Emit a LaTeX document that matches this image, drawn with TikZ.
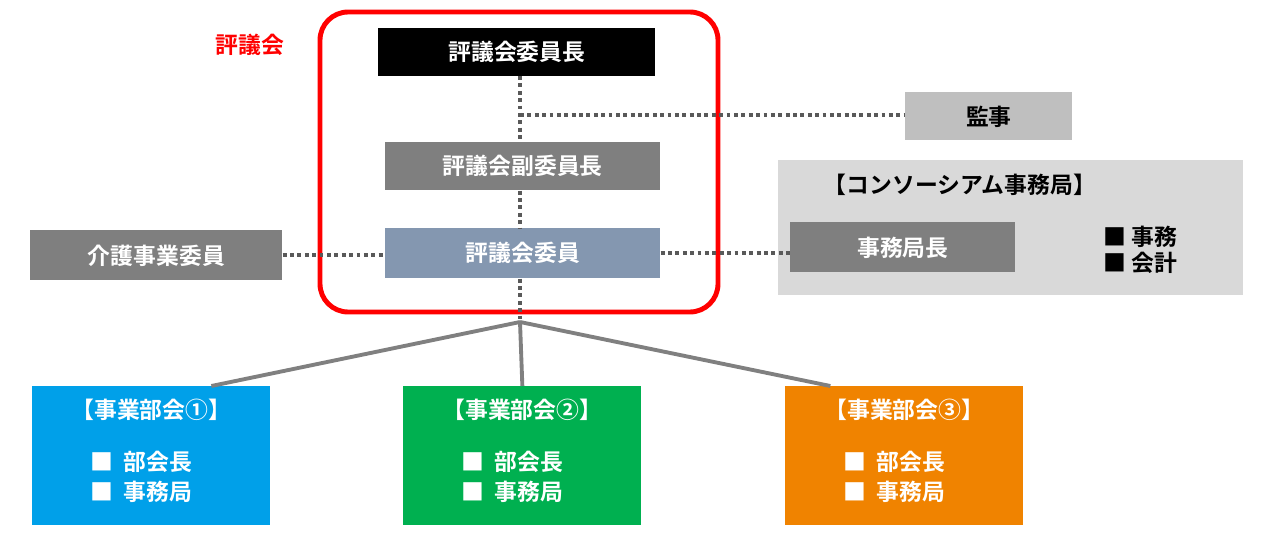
\documentclass[tikz,border=0pt]{standalone}
\usepackage{fontspec}
\setmainfont{Noto Sans CJK JP}[BoldFont={Noto Sans CJK JP Bold}]
\usetikzlibrary{calc}
\definecolor{dgray}{HTML}{7F7F7F}
\definecolor{lgray}{HTML}{BFBFBF}
\definecolor{pgray}{HTML}{D9D9D9}
\definecolor{slate}{HTML}{8497B0}
\definecolor{bukai1}{HTML}{00A0E9}
\definecolor{bukai2}{HTML}{00B050}
\definecolor{bukai3}{HTML}{F08300}
\begin{document}
\begin{tikzpicture}[x=0.02cm,y=-0.02cm,font=\bfseries\fontsize{13}{15}\selectfont,
post/.style ={rectangle, inner sep=0pt, text=white, anchor=north west},
dots/.style ={line width=2.2pt, dotted, draw=black!65},
link/.style ={line width=2.2pt, draw=black!50},
bukai/.style ={rectangle, inner sep=0pt, anchor=north west, minimum width=238*0.02cm, minimum height=139*0.02cm}
]
\useasboundingbox (0,0) rectangle (1280,533);
% council frame
\draw[red, line width=2.8pt, rounded corners=16] (320,12) rectangle (718,312);
\node[red] (Hyogikai) at (250,45) {評議会};
\node[post, fill=black, minimum width=277*0.02cm, minimum height=48*0.02cm] (Chair) at (378,28) {評議会委員長};
\node[post, fill=dgray, minimum width=275*0.02cm, minimum height=48*0.02cm] (Vice) at (385,142) {評議会副委員長};
\node[post, fill=slate, minimum width=275*0.02cm, minimum height=50*0.02cm] (Member) at (385,228) {評議会委員};
\node[post, fill=lgray, text=black, minimum width=167*0.02cm, minimum height=48*0.02cm] (Kanji) at (905,92) {監事};
\node[post, fill=dgray, minimum width=252*0.02cm, minimum height=50*0.02cm] (Kaigo) at (30,230) {介護事業委員};
% consortium
\node[post, fill=pgray, minimum width=465*0.02cm, minimum height=135*0.02cm] (Cons) at (778,160) {};
\node (ConsTitle) at (960,185) {【コンソーシアム事務局】};
\node[post, fill=dgray, minimum width=225*0.02cm, minimum height=50*0.02cm] (Kyokucho) at (790,222) {事務局長};
\node[align=left] (Gyomu) at (1140,250) {■ 事務\\■ 会計};
% dotted links
\coordinate (Top) at (520,76);
\coordinate (Bottom) at (520,322);
\coordinate (KanjiJ) at (520,115);
\draw[dots] (Top) -- (Vice.north -| Top);
\draw[dots] (Vice.south -| Top) -- (Member.north -| Top);
\draw[dots] (Member.south -| Top) -- (Bottom);
\draw[dots] (KanjiJ) -- (Kanji.west |- KanjiJ);
\draw[dots] (Kaigo.east) -- (Member.west |- Kaigo.east);
\draw[dots] (Member.east) -- (Kyokucho.west |- Member.east);
% sections
\foreach \i/\x in {1/32, 2/403, 3/785} {
  \node[bukai, fill=bukai\i] (B\i) at (\x,386) {};
  \node[text=white] at ($(B\i.north)+(0,24)$) {【事業部会\ifcase\i\or ①\or ②\or ③\fi】};
  \node[text=white, align=left] at ($(B\i.north)+(-10,91)$) {■\ \ 部会長\\[2pt]■\ \ 事務局};
  \draw[link] (Bottom) -- ($(B\i.north)+(\ifcase\i\or 60\or 0\or -74\fi,0)$);
}
\end{tikzpicture}
\end{document}
